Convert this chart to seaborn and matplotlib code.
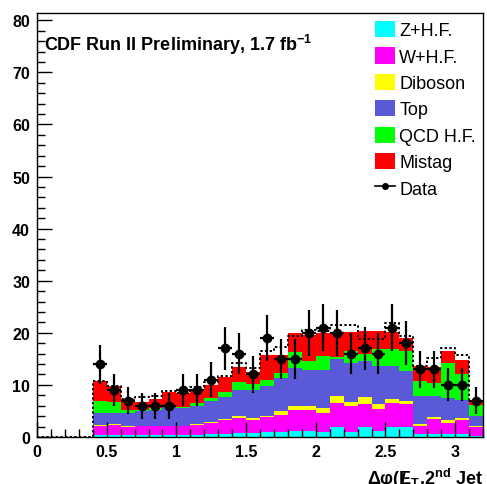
import numpy as np
import pandas as pd
import matplotlib
matplotlib.use("Agg")
import matplotlib.pyplot as plt
import seaborn as sns
from matplotlib.patches import Patch
from matplotlib.lines import Line2D

# ---------------- data (per 0.1-wide bin, 0 .. 3.2) ----------------
n_bins = 32
x_range = (0.0, 3.2)
z_hf    = [0, 0, 0, 0, .4, .4, .4, .4, .4, .4, .4, .4, .5, .6, .8, .8, .9, .9, 1.2, 1.2, 1.0, 1.9, 1.0, 1.9, 1.2, 2.0, 1.9, .6, .6, .5, .5, .2]
w_hf    = [0, 0, 0, 0, 1.8, 1.9, 1.5, 1.7, 1.7, 1.7, 1.7, 1.9, 2.2, 2.6, 2.9, 2.5, 2.9, 3.4, 3.9, 3.9, 3.6, 4.6, 4.9, 4.4, 4.2, 4.5, 4.4, 1.6, 2.9, 2.2, 2.8, 1.8]
diboson = [0, 0, 0, 0, .1, .1, .2, .1, .1, .1, .1, .1, .1, .3, .3, .3, .3, .6, .9, .8, 1.0, 1.3, .9, 1.3, .9, .8, .6, .3, .3, .6, .3, .2]
top     = [0, 0, 0, 0, 2.4, 2.3, 2.6, 2.8, 3.0, 3.5, 3.4, 3.6, 4.2, 4.2, 5.0, 5.4, 5.6, 6.4, 7.2, 7.0, 7.3, 7.2, 7.5, 7.0, 7.4, 6.4, 5.8, 5.4, 4.0, 4.1, 3.5, 1.9]
qcd_hf  = [0, 0, 0, 0, 2.2, 2.1, .4, .2, .3, .3, .1, .5, .4, .9, 1.5, 1.2, 1.3, 1.0, 3.1, 1.7, 2.7, .3, 2.3, 1.3, 3.1, 3.1, 3.9, 2.8, 2.6, 6.8, 4.9, 2.0]
mistag  = [0, 0, 0, 0, 3.8, 2.9, 2.1, 1.6, 1.8, 2.6, 2.7, 2.6, 2.6, 2.9, 3.0, 2.2, 4.7, 3.4, 3.6, 5.0, 4.3, 4.9, 3.6, 4.5, 3.6, 3.4, 2.4, 3.0, 3.0, 2.3, 2.8, .9]
alt_total = [0, 0, 0, 0, 10.7, 9.7, 7.2, 7.7, 7.9, 8.9, 8.4, 9.6, 10.5, 11.8, 14.3, 13.3, 16.6, 17.2, 19.3, 20.6, 20.3, 21.5, 21.5, 18.8, 18.8, 21.9, 19.3, 13.7, 15.1, 17.1, 15.7, 7.0]
data    = [0, 0, 0, 0, 14, 9, 7, 6, 6, 6, 9, 9, 11, 17, 16, 12, 19, 15, 15, 20, 21, 20, 16, 17, 16, 21, 18, 13, 13, 10, 10, 7]

processes = ["Z+H.F.", "W+H.F.", "Diboson", "Top", "QCD H.F.", "Mistag"]
colors = ["#00FFFF", "#FF00FF", "#FFFF00", "#5A5AD8", "#00FF00", "#FF0000"]
x_ticks = [0, 0.5, 1, 1.5, 2, 2.5, 3]
x_tick_labels = ["0", "0.5", "1", "1.5", "2", "2.5", "3"]
y_ticks = [0, 10, 20, 30, 40, 50, 60, 70, 80]

bin_edges = np.linspace(x_range[0], x_range[1], n_bins + 1)
centers = 0.5 * (bin_edges[:-1] + bin_edges[1:])
series = [z_hf, w_hf, diboson, top, qcd_hf, mistag]
df = pd.DataFrame({
    "x": np.concatenate([centers] * len(processes)),
    "w": np.concatenate([np.asarray(s, float) for s in series]),
    "process": np.repeat(processes, len(centers)),
})
df_alt = pd.DataFrame({"x": centers, "w": np.asarray(alt_total, float)})

plt.rcParams["font.family"] = ["Liberation Sans", "DejaVu Sans"]
plt.rcParams["mathtext.fontset"] = "custom"
plt.rcParams["mathtext.rm"] = "Liberation Sans"
plt.rcParams["mathtext.bf"] = "Liberation Sans:bold"
plt.rcParams["mathtext.it"] = "Liberation Sans:italic"

fig = plt.figure(figsize=(4.87, 4.85), dpi=100)
ax = fig.add_axes([37 / 487, 1 - 438 / 485, (483 - 37) / 487, (438 - 14) / 485])

# seaborn stacks the first hue level on top -> reverse order (Z+H.F. at bottom)
stack_order = processes[::-1]
sns.histplot(data=df, x="x", weights="w", hue="process", hue_order=stack_order,
             palette=dict(zip(processes, colors)), bins=n_bins, binrange=x_range,
             multiple="stack", element="step", fill=True, alpha=1,
             linewidth=0, legend=False, ax=ax)

# dotted alternative total
sns.histplot(data=df_alt, x="x", weights="w", bins=n_bins, binrange=x_range,
             element="step", fill=False, color="black", linestyle=(0, (1.2, 1.2)),
             linewidth=1.4, ax=ax)

data_arr = np.asarray(data, float)
mask = data_arr > 0
ax.errorbar(centers[mask], data_arr[mask], yerr=np.sqrt(data_arr[mask]),
            xerr=0.05, fmt="o", color="black", ms=6, elinewidth=1.6,
            capsize=0, zorder=5)

ax.set_xlim(*x_range)
ax.set_ylim(0, 81.4)
ax.set_xticks(x_ticks)
ax.set_xticklabels(x_tick_labels)
ax.set_xticks(bin_edges, minor=True)
ax.set_yticks(y_ticks)
ax.set_yticks(np.arange(0, 81, 2), minor=True)
ax.tick_params(axis="both", which="major", direction="in", length=11, width=1,
               labelsize=11.5, pad=5, top=False, right=False)
ax.tick_params(axis="both", which="minor", direction="in", length=5.5, width=1,
               top=False, right=False)
for lbl in ax.get_xticklabels() + ax.get_yticklabels():
    lbl.set_fontweight("bold")
ax.set_xlabel("")
ax.set_ylabel("")
for sp in ax.spines.values():
    sp.set_color("black")
    sp.set_linewidth(1)

ax.text(0.015, 0.955, r"CDF Run II Preliminary, 1.7 fb$^{\mathbf{-1}}$",
        transform=ax.transAxes, fontsize=13, fontweight="bold", va="top", ha="left")

ax.text(1.0, -0.068,
        "\u0394\u03c6(E$\\!\\!\\!\\!$/$\\,\\,_{\\mathbf{T}}$,2$^{\\mathbf{nd}}$ Jet",
        transform=ax.transAxes, fontsize=13, fontweight="bold", va="top", ha="right")

handles = [Patch(facecolor=c, edgecolor="none") for c in colors]
handles.append(Line2D([0], [0], color="black", marker="o", ms=4, lw=1.2))
labels = processes + ["Data"]
leg = ax.legend(handles, labels, loc="upper left", bbox_to_anchor=(375 / 487, 1 - 22 / 485),
                bbox_transform=fig.transFigure, frameon=False, fontsize=13,
                handlelength=1.1, handleheight=1.0, handletextpad=0.25,
                labelspacing=0.45, borderpad=0, borderaxespad=0)

fig.savefig("out.png", dpi=100)
